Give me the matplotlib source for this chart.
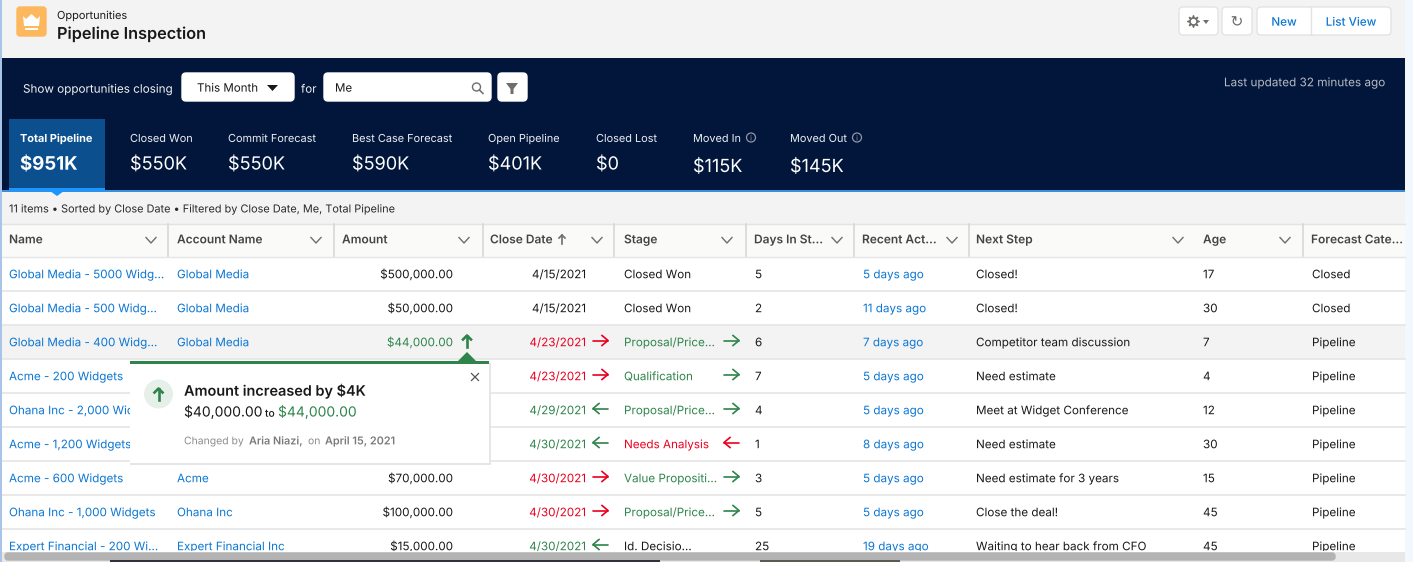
"""Pipeline Inspection screen drawn on a pixel-sized axes."""

import matplotlib.patheffects as pe
import matplotlib.pyplot as plt
from matplotlib.patches import Circle, FancyBboxPatch, Polygon, Rectangle

plt.rcParams["font.family"] = ["Inter", "DejaVu Sans"]
plt.rcParams["text.hinting"] = "no_hinting"

BLUE = "#0b76d3"
GREEN = "#2e844a"
RED = "#ea001e"
INK = "#181818"
NAVY = "#01163a"

# table contents
columns = ["Name", "Account Name", "Amount", "Close Date", "Stage", "Days In St...",
           "Recent Act...", "Next Step", "Age", "Forecast Cate..."]
names = ["Global Media - 5000 Widg...", "Global Media - 500 Widg...", "Global Media - 400 Widg...",
         "Acme - 200 Widgets", "Ohana Inc - 2,000 Widgets", "Acme - 1,200 Widgets",
         "Acme - 600 Widgets", "Ohana Inc - 1,000 Widgets", "Expert Financial - 200 Wi..."]
accounts = ["Global Media", "Global Media", "Global Media", "", "", "",
            "Acme", "Ohana Inc", "Expert Financial Inc"]
amounts = ["$500,000.00", "$50,000.00", "$44,000.00", "", "", "",
           "$70,000.00", "$100,000.00", "$15,000.00"]
close_dates = ["4/15/2021", "4/15/2021", "4/23/2021", "4/23/2021", "4/29/2021",
               "4/30/2021", "4/30/2021", "4/30/2021", "4/30/2021"]
date_moves = [None, None, "r", "r", "l", "l", "r", "r", "l"]
stages = ["Closed Won", "Closed Won", "Proposal/Price...", "Qualification", "Proposal/Price...",
          "Needs Analysis", "Value Propositi...", "Proposal/Price...", "Id. Decisio..."]
stage_moves = [None, None, "gr", "gr", "gr", "rl", "gr", "gr", None]
days_in_stage = ["5", "2", "6", "7", "4", "1", "3", "5", "25"]
recent = ["5 days ago", "11 days ago", "7 days ago", "5 days ago", "5 days ago",
          "8 days ago", "5 days ago", "5 days ago", "19 days ago"]
next_steps = ["Closed!", "Closed!", "Competitor team discussion", "Need estimate",
              "Meet at Widget Conference", "Need estimate", "Need estimate for 3 years",
              "Close the deal!", "Waiting to hear back from CFO"]
ages = ["17", "30", "7", "4", "12", "30", "15", "45", "45"]
forecast = ["Closed", "Closed", "Pipeline", "Pipeline", "Pipeline", "Pipeline",
            "Pipeline", "Pipeline", "Pipeline"]

# summary tiles
tile_labels = ["Total Pipeline", "Closed Won", "Commit Forecast", "Best Case Forecast",
               "Open Pipeline", "Closed Lost", "Moved In", "Moved Out"]
tile_values = ["$951K", "$550K", "$550K", "$590K", "$401K", "$0", "$115K", "$145K"]
tile_x = [20, 130, 228, 352, 488, 596, 693, 790]

column_x = [9, 177, 342, 490, 624, 754, 862, 976, 1203, 1311]
divider_x = [168, 334, 483, 614, 746, 854, 969, 1303]
chevron_x = [151, 316, 464, 597, 727, 837, 952, 1178, 1285]
row_y = [274, 308, 342, 376, 410, 444, 478, 512, 546]

fig = plt.figure(figsize=(14.13, 5.62), dpi=100)
ax = fig.add_axes([0, 0, 1, 1])
ax.set_xlim(0, 1413)
ax.set_ylim(562, 0)
ax.axis("off")


def rect(x0, y0, x1, y1, color, z=1, **kw):
    p = Rectangle((x0, y0), x1 - x0, y1 - y0, fc=color, ec="none", zorder=z, **kw)
    ax.add_patch(p)
    return p


def button(x0, y0, x1, y1, fc="white", ec="#e3e3e3", z=3, r=4):
    ax.add_patch(FancyBboxPatch((x0, y0), x1 - x0, y1 - y0, boxstyle=f"round,pad=0,rounding_size={r}",
                                fc=fc, ec=ec, lw=1, zorder=z))


def label(x, y, s, size=8.4, color=INK, weight="normal", ha="left", z=4, **kw):
    # y is the middle of the capitals; the path effect stops agg snapping each string
    return ax.text(x, y + 1 + 0.5 * size, s, fontsize=size, color=color, fontweight=weight,
                   ha=ha, va="baseline", zorder=z, path_effects=[pe.Normal()], **kw)


def arrow(x, y, direction, color, z=4):
    # horizontal row-change arrow, 15 px long
    tip, tail = (x + 15, x) if direction == "r" else (x, x + 15)
    head = 6 if direction == "r" else -6
    ax.plot([tail, tip], [y, y], color=color, lw=1.2, zorder=z, solid_capstyle="round")
    ax.plot([tip - head, tip, tip - head], [y - 5, y, y + 5], color=color, lw=1.2, zorder=z)


def up_arrow(x, y, color, z=4, h=11, lw=1.9, w=4):
    ax.plot([x, x], [y - h / 2, y + h / 2], color=color, lw=lw, zorder=z)
    ax.plot([x - w, x, x + w], [y - h / 2 + w, y - h / 2, y - h / 2 + w], color=color, lw=lw, zorder=z)


def chevron(x, y, color="#706e6b"):
    ax.plot([x - 5, x, x + 5], [y - 2.5, y + 3, y - 2.5], color=color, lw=1.0, zorder=4)


# backgrounds
rect(0, 0, 1413, 562, "white", 0)
rect(0, 0, 1405, 58, "#f3f3f3")
rect(1405, 0, 1413, 562, "#f3f8fe")
rect(0, 0, 2, 562, "#a9c4e6", 8)
rect(2, 58, 1405, 191, NAVY)
rect(2, 191, 1405, 224, "#f3f3f3")
rect(2, 190, 1405, 192, "#3a8fdc", 2)

# page header
button(17, 7, 46, 36, fc="#fdb75d", ec="#fdb75d", r=3)
ax.add_patch(Polygon([(23, 16), (26, 19), (31.5, 14), (37, 19), (40, 16), (39, 26), (24, 26)],
                     fc="white", ec="none", zorder=4))
rect(25, 28, 38, 30, "white", 4)
label(57, 14, "Opportunities", size=7.9)
label(57, 32, "Pipeline Inspection", size=11.7, weight="semibold")

button(1179, 7, 1218, 35)
ax.scatter([1193], [21], s=70, marker=(8, 1, 0), c="#706e6b", zorder=4)
ax.scatter([1193], [21], s=8, c="white", zorder=5)
ax.add_patch(Polygon([(1203, 20), (1209, 20), (1206, 24)], fc="#706e6b", zorder=4))
button(1222, 7, 1252, 35)
label(1237, 20, "\u21bb", size=11, color="#706e6b", ha="center", family="DejaVu Sans")
button(1257, 7, 1391, 35)
ax.plot([1311, 1311], [7, 35], color="#e3e3e3", lw=1, zorder=4)
label(1284, 20.5, "New", size=8.4, color=BLUE, weight="medium", ha="center")
label(1351, 20.5, "List View", size=8.4, color=BLUE, weight="medium", ha="center")

# filter bar
label(23, 87.5, "Show opportunities closing", size=8.4, color="#f3f3f3")
button(182, 73, 294, 101, ec="white")
label(197, 86.5, "This Month", size=8.3)
ax.add_patch(Polygon([(267, 85), (278, 85), (272.5, 91)], fc=INK, zorder=4))
label(301, 87.5, "for", size=8.3, color="#f3f3f3")
button(324, 73, 491, 101, ec="white")
label(335, 86.5, "Me", size=8.3)
ax.add_patch(Circle((476.5, 87), 4, fc="none", ec="#706e6b", lw=1, zorder=4))
ax.plot([479.5, 483], [90, 93.5], color="#706e6b", lw=1.1, zorder=4)
button(498, 73, 527, 101, ec="white")
ax.add_patch(Polygon([(506, 83), (518, 83), (513.5, 89), (513.5, 94), (510.5, 94), (510.5, 89)],
                     fc="#706e6b", zorder=4))
label(1385, 81, "Last updated 32 minutes ago", size=8.45, color="#b8bcc6", ha="right")

# summary tiles
rect(9, 119, 105, 191, "#0b4f8f", 2)
rect(9, 188, 105, 191, "#1b96ff", 3)
ax.add_patch(Polygon([(50, 191), (64, 191), (57, 196)], fc="#1b96ff", zorder=5))
for i, (x, name, value) in enumerate(zip(tile_x, tile_labels, tile_values)):
    selected = i == 0
    moved = name.startswith("Moved")
    label(x, 137, name, size=7.85, color="white" if selected else "#eef1f6",
          weight="bold" if selected else "normal")
    label(x, 164.5 if moved else 162, value, size=13.4 if selected else 13, color="white",
          weight="bold" if selected else "normal")
for x in [751, 857]:
    ax.add_patch(Circle((x, 137.5), 4.5, fc="none", ec="#8e95a5", lw=0.9, zorder=4))
    label(x, 136.8, "i", size=5.5, color="#8e95a5", ha="center")

label(9, 207.5, "11 items \u2022 Sorted by Close Date \u2022 Filtered by Close Date, Me, Total Pipeline",
      size=7.85, color="#2b2826")

# table header
rect(2, 224, 1405, 257, "#fafaf9", 1)
ax.plot([2, 1405], [224, 224], color="#e3e3e3", lw=1, zorder=2)
ax.plot([2, 1405], [257, 257], color="#e5e5e5", lw=1, zorder=2)
for x in divider_x:
    ax.plot([x, x], [224, 256], color="#d8d8d8", lw=1.2, zorder=3)
for x, name in zip(column_x, columns):
    label(x, 238, name, size=8.6, color="#444444", weight="semibold")
for x in chevron_x:
    chevron(x, 240)
up_arrow(562, 239.5, "#706e6b", h=9, lw=1.2, w=3)

# table rows, highlight row 3 sits under the popover
rect(2, 325, 1405, 359, "#f3f3f3", 1)
for y in row_y[:-1]:
    ax.plot([2, 1405], [y + 17, y + 17], color="#e5e5e5", lw=1.2, zorder=2)
clip = rect(0, 257, 1405, 551, "none", 0)


def cell(x, y, s, color=INK, ha="left"):
    t = label(x, y - 1, s, size=8.4, color=color, ha=ha)
    t.set_clip_path(clip)
    t.set_clip_on(True)


date_color = {"r": RED, "l": GREEN, None: INK}
stage_color = {"gr": GREEN, "rl": RED, None: INK}
for i, y in enumerate(row_y):
    cell(9, y, names[i], BLUE)
    cell(177, y, accounts[i], BLUE)
    cell(453, y, amounts[i], GREEN if i == 2 else INK, ha="right")
    cell(586, y, close_dates[i], date_color[date_moves[i]], ha="right")
    if date_moves[i]:
        arrow(593, y - 1.5, date_moves[i], date_color[date_moves[i]])
    cell(624, y, stages[i], stage_color[stage_moves[i]])
    if stage_moves[i]:
        arrow(724, y - 1.5, stage_moves[i][1], stage_color[stage_moves[i]])
    cell(755, y, days_in_stage[i])
    cell(863, y, recent[i], BLUE)
    cell(976, y, next_steps[i])
    cell(1203, y, ages[i])
    cell(1312, y, forecast[i])
up_arrow(467, 341, GREEN)

# popover
rect(130, 363, 491, 465, "#e6e6e6", 9)
rect(130, 362, 489, 463, "white", 10)
rect(130, 361, 489, 364, GREEN, 11)
ax.add_patch(Polygon([(457, 362), (477, 362), (467, 352)], fc=GREEN, zorder=11))
ax.add_patch(Circle((158.5, 394), 14.5, fc="#e6f0e9", ec="none", zorder=11))
up_arrow(158.5, 394, GREEN, z=12)
ax.plot([471.5, 478.5], [373.5, 380.5], color="#555555", lw=0.9, zorder=12)
ax.plot([471.5, 478.5], [380.5, 373.5], color="#555555", lw=0.9, zorder=12)
label(184, 389.5, "Amount increased by $4K", size=10.4, weight="semibold", z=12)
label(184, 410.5, "$40,000.00", size=10.0, z=12)
label(265, 412, "to", size=7.4, weight="medium", z=12)
label(278, 410.5, "$44,000.00", size=10.0, color=GREEN, z=12)
label(184, 439.5, "Changed by", size=7.5, color="#8c8c8c", z=12)
label(249, 439.5, "Aria Niazi,", size=7.8, color="#7a7a7a", weight="semibold", z=12)
label(308, 439.5, "on", size=7.5, color="#8c8c8c", z=12)
label(325, 439.5, "April 15, 2021", size=7.8, color="#7a7a7a", weight="semibold", z=12)

# bottom scroll bar with what shows through below it
rect(2, 552, 1405, 562, "#e8e8e8", 6)
button(5, 553, 1335, 560, fc="#b3b3b3", ec="#b3b3b3", z=7, r=3)
rect(110, 560, 660, 562, "#30323a", 8)
rect(760, 560, 900, 562, "#5a5a50", 8)

fig.savefig("out.png", dpi=100)
